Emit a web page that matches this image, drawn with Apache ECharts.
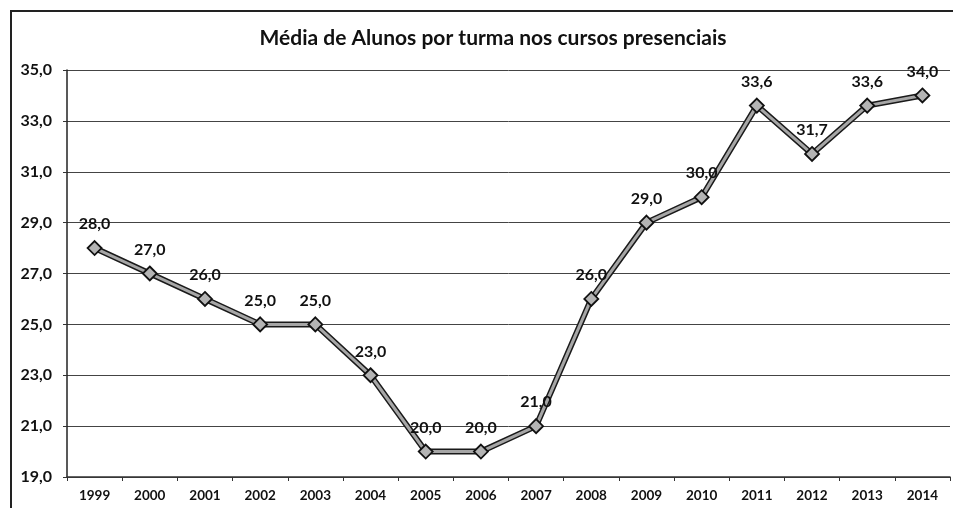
<!DOCTYPE html>
<html>
<head>
<meta charset="utf-8">
<script src="https://cdn.jsdelivr.net/npm/echarts@6/dist/echarts.min.js"></script>
<style>
  html, body { margin: 0; padding: 0; background: #fff; }
  #chart { width: 953px; height: 508px; }
</style>
</head>
<body>
<div id="chart"></div>
<script>
// Average number of students per class in on-site courses, 1999–2014
const chartTitle = 'Média de Alunos por turma nos cursos presenciais';
const years = ['1999', '2000', '2001', '2002', '2003', '2004', '2005', '2006',
               '2007', '2008', '2009', '2010', '2011', '2012', '2013', '2014'];
const studentsPerClass = [28.0, 27.0, 26.0, 25.0, 25.0, 23.0, 20.0, 20.0,
                          21.0, 26.0, 29.0, 30.0, 33.6, 31.7, 33.6, 34.0];
const yTicks = [19, 21, 23, 25, 27, 29, 31, 33, 35];

const FONT = 'Lato, "Open Sans", sans-serif';
const fmt = v => Number(v).toFixed(1).replace('.', ',');

const chart = echarts.init(document.getElementById('chart'), null, { renderer: 'canvas' });

chart.setOption({
  backgroundColor: '#ffffff',
  animation: false,
  title: {
    text: chartTitle,
    left: 488,
    textAlign: 'center',
    top: 23,
    textStyle: { fontFamily: FONT, fontWeight: 'bold', fontSize: 21, color: '#111' }
  },
  graphic: [{
    type: 'rect',
    shape: { x: 11, y: 11, width: 980, height: 540 },
    style: { fill: 'none', stroke: '#222', lineWidth: 2 },
    silent: true
  }],
  grid: { left: 67, right: 3, top: 70, bottom: 31 },
  xAxis: {
    type: 'category',
    data: years,
    boundaryGap: true,
    axisLine: { show: true, lineStyle: { color: '#333', width: 1.5 } },
    axisTick: { show: true, length: 4, lineStyle: { color: '#333' } },
    axisLabel: {
      margin: 12,
      fontFamily: FONT, fontWeight: 'bold', fontSize: 13.5, color: '#111'
    },
    splitLine: { show: false }
  },
  yAxis: {
    type: 'value',
    min: 19,
    max: 35,
    interval: 1,
    axisLine: { show: true, lineStyle: { color: '#222', width: 1.5 } },
    axisTick: { show: true, length: 4, customValues: yTicks, lineStyle: { color: '#333' } },
    axisLabel: {
      customValues: yTicks,
      margin: 15,
      formatter: fmt,
      fontFamily: FONT, fontWeight: 'bold', fontSize: 16, color: '#111'
    },
    splitLine: { show: true, lineStyle: { color: '#444', width: 1 } }
  },
  series: [
    {
      // dark outline beneath the grey line
      type: 'line',
      data: studentsPerClass,
      symbol: 'none',
      silent: true,
      lineStyle: { color: '#1a1a1a', width: 6 },
      z: 2
    },
    {
      type: 'line',
      data: studentsPerClass,
      symbol: 'diamond',
      symbolSize: 14,
      itemStyle: { color: '#b4b4b4', borderColor: '#111', borderWidth: 1.8 },
      lineStyle: { color: '#a6a6a6', width: 3 },
      label: {
        show: true,
        position: 'top',
        distance: 8,
        formatter: p => fmt(p.value),
        fontFamily: FONT, fontWeight: 'bold', fontSize: 16, color: '#111'
      },
      z: 3
    }
  ]
});
</script>
</body>
</html>
